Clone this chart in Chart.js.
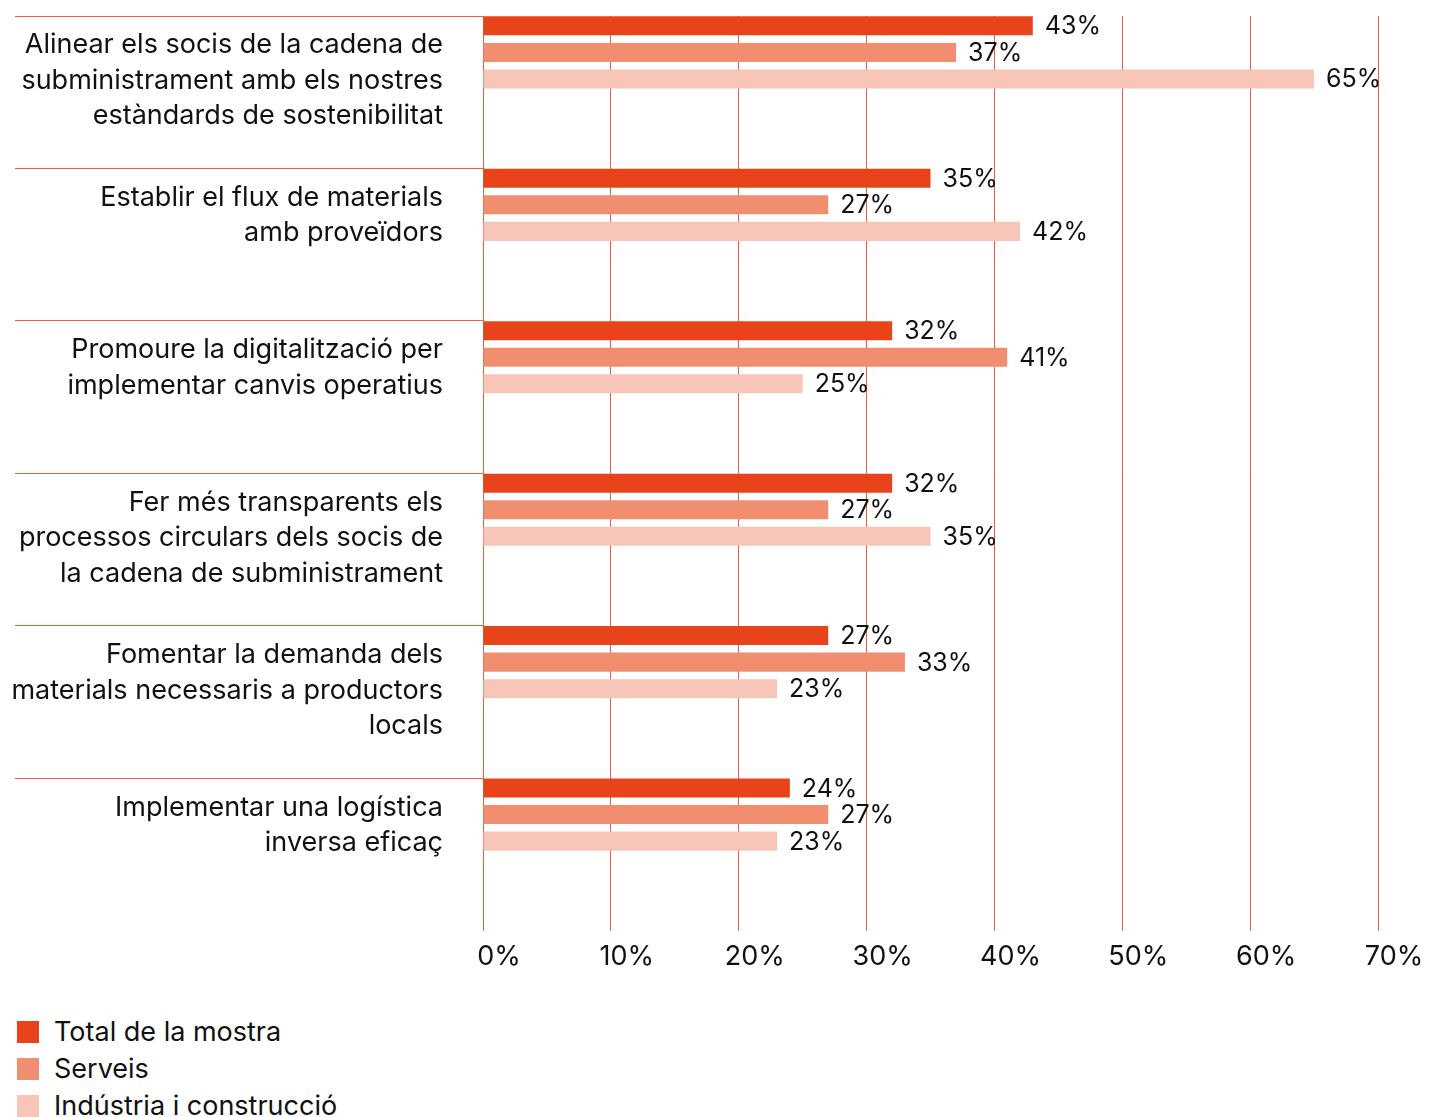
<!DOCTYPE html>
<html lang="ca">
<head>
<meta charset="utf-8">
<title>Economia circular - cadena de subministrament</title>
<script src="https://cdn.jsdelivr.net/npm/chart.js@4.4.1/dist/chart.umd.min.js"></script>
<style>
  html, body { margin: 0; padding: 0; background: #fff; }
  body { width: 1429px; height: 1117px; overflow: hidden; position: relative; font-family: Inter, "Noto Sans", sans-serif; }
  #wrap { position: absolute; left: 0; top: 0; width: 1429px; height: 1000px; }
  #legend { position: absolute; left: 17px; top: 1013px; }
  .item { display: flex; align-items: center; height: 37px; font-size: 27px; color: #111; }
  .box { width: 22px; height: 22px; margin-right: 15px; }
</style>
</head>
<body>
<div id="wrap"><canvas id="chart"></canvas></div>
<div id="legend"></div>
<script>
// etiquetes de les categories (una línia per element)
const categories = [
    ['Alinear els socis de la cadena de', 'subministrament amb els nostres', 'estàndards de sostenibilitat'],
    ['Establir el flux de materials', 'amb proveïdors'],
    ['Promoure la digitalització per', 'implementar canvis operatius'],
    ['Fer més transparents els', 'processos circulars dels socis de', 'la cadena de subministrament'],
    ['Fomentar la demanda dels', 'materials necessaris a productors', 'locals'],
    ['Implementar una logística', 'inversa eficaç']
];
const seriesNames = ['Total de la mostra', 'Serveis', 'Indústria i construcció'];
const totalValues = [43, 35, 32, 32, 27, 24];
const serveisValues = [37, 27, 41, 27, 33, 27];
const industriaValues = [65, 42, 25, 35, 23, 23];
const xTicks = [0, 10, 20, 30, 40, 50, 60, 70];

const barColors = ['#E8431A', '#F18E70', '#F7C6B9'];
const gridColor = '#EA5F3A';
const textColor = '#111111';

// totes les etiquetes a 3 línies perquè quedin alineades a dalt
const yLabels = categories.map(lines => lines.concat(Array(3 - lines.length).fill('')));

const seriesValues = [totalValues, serveisValues, industriaValues];
const datasets = seriesValues.map((values, i) => ({
    label: seriesNames[i],
    data: values,
    backgroundColor: barColors[i],
    borderWidth: 0
}));
// sèries buides: només ocupen lloc perquè les barres quedin a la part de dalt de cada franja
for (let i = 0; i < 3; i++) {
    datasets.push({label: '', data: categories.map(() => null), backgroundColor: 'transparent'});
}

// etiquetes de valor al final de cada barra
const valueLabels = {
    id: 'valueLabels',
    afterDatasetsDraw(chart) {
        const ctx = chart.ctx;
        ctx.save();
        ctx.font = '25px Inter';
        ctx.fillStyle = textColor;
        ctx.textAlign = 'left';
        ctx.textBaseline = 'middle';
        chart.data.datasets.forEach((ds, i) => {
            if (!ds.label) return;
            chart.getDatasetMeta(i).data.forEach((bar, j) => {
                ctx.fillText(ds.data[j] + '%', bar.x + 12, bar.y + 1);
            });
        });
        ctx.restore();
    }
};

const chart = new Chart(document.getElementById('chart'), {
    type: 'bar',
    data: {
        labels: yLabels,
        datasets: datasets
    },
    options: {
        indexAxis: 'y',
        responsive: true,
        maintainAspectRatio: false,
        animation: false,
        categoryPercentage: 1.045,
        barPercentage: 0.717,
        layout: {
            padding: {left: 0, top: 16, right: 51, bottom: 17}
        },
        plugins: {
            legend: {display: false},
            tooltip: {enabled: false}
        },
        scales: {
            x: {
                min: 0,
                max: 70,
                z: 1,
                afterBuildTicks: scale => { scale.ticks = xTicks.map(v => ({value: v})); },
                ticks: {
                    callback: v => v + '%',
                    labelOffset: 16,
                    padding: 10,
                    maxRotation: 0,
                    color: textColor,
                    font: {family: 'Inter', size: 27}
                },
                grid: {color: gridColor, lineWidth: 1, drawTicks: false},
                border: {display: false}
            },
            y: {
                // l'eix ocupa fins a x=483; la línia separadora va de 15 a 483
                afterFit: scale => { scale.width = 483; },
                ticks: {
                    padding: -428,
                    labelOffset: -11.5,
                    autoSkip: false,
                    color: textColor,
                    font: {family: 'Inter', size: 27, lineHeight: 1.315}
                },
                grid: {
                    offset: true,
                    drawOnChartArea: false,
                    tickLength: 468,
                    lineWidth: 1,
                    color: ctx => ctx.index < categories.length ? gridColor : 'transparent'
                },
                border: {display: false}
            }
        }
    },
    plugins: [valueLabels]
});

// llegenda pròpia, en vertical
const legend = document.getElementById('legend');
chart.data.datasets.forEach(ds => {
    if (!ds.label) return;
    const item = document.createElement('div');
    item.className = 'item';
    item.innerHTML = '<span class="box" style="background:' + ds.backgroundColor + '"></span>' + ds.label;
    legend.appendChild(item);
});
</script>
</body>
</html>
